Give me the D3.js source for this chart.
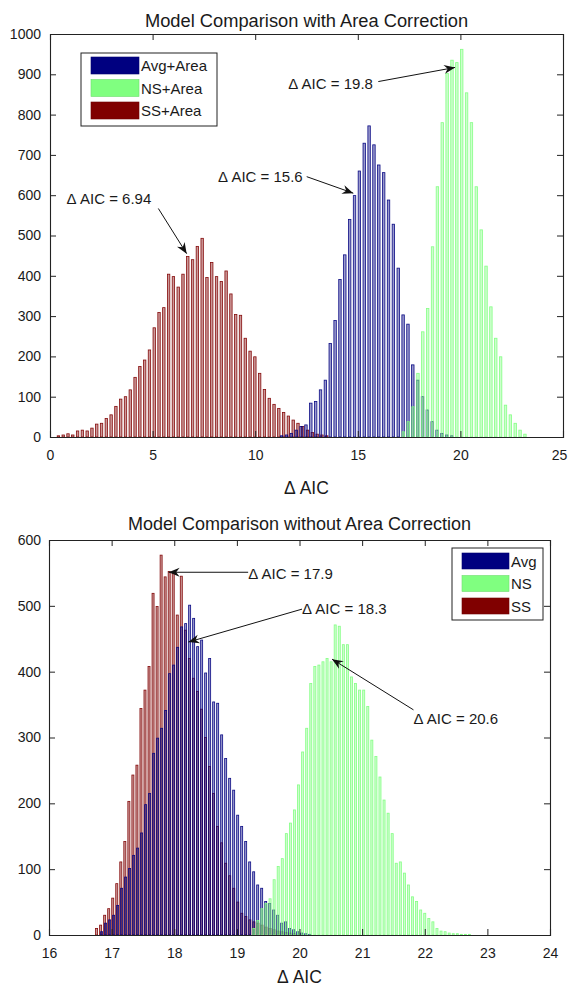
<!DOCTYPE html>
<html><head><meta charset="utf-8">
<script src="https://cdn.jsdelivr.net/npm/d3@7"></script>
<style>
html,body{margin:0;padding:0;background:#fff;}
svg text{font-family:"Liberation Sans",Arial,Helvetica,sans-serif;fill:#1a1a1a;}
</style></head>
<body>
<svg id="chart" width="569" height="988"></svg>
<script>
// ---------- DATA ----------
// Top panel: Model Comparison with Area Correction
const topTitle = "Model Comparison with Area Correction";
const topSeriesNames = ["Avg+Area", "NS+Area", "SS+Area"];
const topXTicks = [0, 5, 10, 15, 20, 25];
const topYTicks = [0, 100, 200, 300, 400, 500, 600, 700, 800, 900, 1000];
const topSSStart = 0.41, topSSBin = 0.2335;
const topSSCounts = [3,5,8,5,15,17,15,22,32,34,46,55,76,94,100,117,148,175,191,216,271,309,321,404,398,372,404,448,440,473,493,396,433,398,386,412,355,304,302,245,213,199,158,118,96,81,71,61,52,42,34,26,17,11,7,5,3];
const topAvgStart = 11.29, topAvgBin = 0.2367;
const topAvgCounts = [3,5,9,17,26,30,84,88,117,141,232,289,391,452,540,599,660,729,772,725,675,656,588,528,419,303,280,179,141,100,67,38,17,9,5,3];
const topNSStart = 17.22, topNSBin = 0.237;
const topNSCounts = [13,38,75,158,261,319,472,621,780,902,935,929,962,854,780,621,514,424,323,245,199,79,55,34,17,7];
// annotations: label, text anchor (x,y data), arrow tail (x,y), arrow tip (x,y)
const topNotes = [
  {label:"\u0394 AIC = 6.94", tx:0.81, ty:577, ax:5.28, ay:567, bx:6.66, by:455},
  {label:"\u0394 AIC = 15.6", tx:8.19, ty:633, ax:12.51, ay:646, bx:14.78, by:605},
  {label:"\u0394 AIC = 19.8", tx:11.61, ty:864, ax:16.0, ay:882, bx:19.74, by:917}
];

// Bottom panel: Model Comparison without Area Correction
const botTitle = "Model Comparison without Area Correction";
const botSeriesNames = ["Avg", "NS", "SS"];
const botXTicks = [16, 17, 18, 19, 20, 21, 22, 23, 24];
const botYTicks = [0, 100, 200, 300, 400, 500, 600];
const botSSStart = 16.76, botSSBin = 0.0644;
const botSSCounts = [10,15,30,40,56,78,111,142,203,243,258,344,372,408,519,499,577,544,552,549,486,545,463,420,390,370,343,300,256,215,165,140,109,90,71,50,33,28,23,20,18,15,12,10,8,6,5,4,3,2];
const botAvgStart = 16.84, botAvgBin = 0.0639;
const botAvgCounts = [5,18,23,30,45,71,88,101,121,132,155,198,215,276,299,314,341,397,410,437,468,473,501,481,438,448,398,420,354,352,304,268,238,220,182,165,142,111,96,76,71,51,48,38,30,18,20,10,8,5,3,2,1];
const botNSStart = 19.27, botNSBin = 0.065;
const botNSCounts = [10,22,40,48,55,84,104,116,154,170,190,228,278,314,382,408,410,415,420,415,471,469,441,441,392,382,372,372,347,296,271,240,205,185,154,109,111,94,76,58,51,38,33,25,20,10,6,5,3,2,2,1,1,1];
const botNotes = [
  {label:"\u0394 AIC = 17.9", tx:19.18, ty:541, ax:19.18, ay:551, bx:17.91, by:551},
  {label:"\u0394 AIC = 18.3", tx:20.04, ty:487, ax:20.04, ay:495, bx:18.225, by:445},
  {label:"\u0394 AIC = 20.6", tx:21.82, ty:321, ax:21.82, ay:342, bx:20.52, by:419}
];

const colAvg = "#000080", colNS = "#80ff80", colSS = "#800000";

// ---------- DRAW ----------
const svg = d3.select("#chart");

function drawPanel(cfg){
  const g = svg.append("g");
  const x = d3.scaleLinear().domain(cfg.xDomain).range([cfg.left, cfg.right]);
  const y = d3.scaleLinear().domain(cfg.yDomain).range([cfg.bottom, cfg.top]);

  // bars
  cfg.series.forEach(s => {
    const stepPx = x(s.start + s.bin) - x(s.start);
    const w = stepPx * cfg.barFrac;
    g.append("g").selectAll("rect").data(s.counts).join("rect")
      .attr("x", (d,i) => x(s.start + i*s.bin) - w/2)
      .attr("width", w)
      .attr("y", d => y(d))
      .attr("height", d => y(0) - y(d))
      .attr("fill", s.color)
      .attr("fill-opacity", 0.4)
      .attr("stroke", s.color)
      .attr("stroke-width", 0.8)
      .attr("stroke-opacity", 0.95);
  });

  // axes
  const fmt = d3.format("d");
  const ax = g.append("g").attr("transform", `translate(0,${cfg.bottom})`)
    .call(d3.axisBottom(x).tickValues(cfg.xTicks).tickFormat(fmt).tickSize(-6).tickPadding(13));
  const axT = g.append("g").attr("transform", `translate(0,${cfg.top})`)
    .call(d3.axisTop(x).tickValues(cfg.xTicks).tickFormat("").tickSize(-6));
  const ay = g.append("g").attr("transform", `translate(${cfg.left},0)`)
    .call(d3.axisLeft(y).tickValues(cfg.yTicks).tickFormat(fmt).tickSize(-6).tickPadding(cfg.yPad));
  const ayR = g.append("g").attr("transform", `translate(${cfg.right},0)`)
    .call(d3.axisRight(y).tickValues(cfg.yTicks).tickFormat("").tickSize(-6));
  [ax, axT, ay, ayR].forEach(a => {
    a.selectAll("path.domain").attr("stroke", "#222").attr("stroke-width", 1.1);
    a.selectAll(".tick line").attr("stroke", "#222");
    a.selectAll("text").style("font-size", "14px").attr("fill", "#1a1a1a")
      .style("font-family", '"Liberation Sans",Arial,sans-serif');
  });
  // keep the right-most x label inside the page
  ax.selectAll(".tick text").filter(d => x(d) > 556).attr("dx", -4);

  // title and x-label
  g.append("text").attr("x", (cfg.left+cfg.right)/2).attr("y", cfg.titleY)
    .attr("text-anchor","middle").style("font-size", cfg.titleSize).text(cfg.title);
  g.append("text").attr("x", (cfg.left+cfg.right)/2).attr("y", cfg.xLabelY)
    .attr("text-anchor","middle").style("font-size","17.5px").text("\u0394 AIC");

  // annotations
  cfg.notes.forEach(n => {
    const x1 = x(n.ax), y1 = y(n.ay), x2 = x(n.bx), y2 = y(n.by);
    g.append("line").attr("x1", x1).attr("y1", y1).attr("x2", x2).attr("y2", y2)
      .attr("stroke", "#111").attr("stroke-width", 1);
    const a = Math.atan2(y2-y1, x2-x1), c = Math.cos(a), s = Math.sin(a);
    const L = 11, W = 4.5, N = 7.5;
    const pts = [[x2,y2],[x2-L*c+W*s, y2-L*s-W*c],[x2-N*c, y2-N*s],[x2-L*c-W*s, y2-L*s+W*c]];
    g.append("path").attr("d", "M" + pts.map(p => p.join(",")).join("L") + "Z").attr("fill", "#111");
    g.append("text").attr("x", x(n.tx)).attr("y", y(n.ty)).style("font-size","15px").text(n.label);
  });

  // legend
  const L = cfg.legend;
  const lg = g.append("g");
  lg.append("rect").attr("x", L.x).attr("y", L.y).attr("width", L.w).attr("height", L.h)
    .attr("fill", "#fff").attr("stroke", "#222").attr("stroke-width", 1);
  cfg.legendItems.forEach((it, i) => {
    const yy = L.y + L.pad + i*L.step;
    lg.append("rect").attr("x", L.x + 10).attr("y", yy).attr("width", L.sw).attr("height", L.sh)
      .attr("fill", it.color).attr("stroke", d3.color(it.color).darker(0.4)).attr("stroke-width", 0.6);
    lg.append("text").attr("x", L.x + 12 + L.sw).attr("y", yy + L.sh/2 + 5.5)
      .style("font-size","15px").text(it.name);
  });
}

drawPanel({
  xDomain:[0,25], yDomain:[0,1000], left:50, right:563, top:34, bottom:437,
  xTicks: topXTicks, yTicks: topYTicks, yPad: 9, barFrac: 0.5,
  title: topTitle, titleY: 27, titleSize: "18.3px", xLabelY: 494,
  series:[
    {start: topSSStart, bin: topSSBin, counts: topSSCounts, color: colSS},
    {start: topAvgStart, bin: topAvgBin, counts: topAvgCounts, color: colAvg},
    {start: topNSStart, bin: topNSBin, counts: topNSCounts, color: colNS}
  ],
  notes: topNotes,
  legend:{x:81, y:53, w:136, h:73, pad:4, step:22.5, sw:48, sh:17},
  legendItems:[
    {name: topSeriesNames[0], color: colAvg},
    {name: topSeriesNames[1], color: colNS},
    {name: topSeriesNames[2], color: colSS}
  ]
});

drawPanel({
  xDomain:[16,24], yDomain:[0,600], left:49, right:550, top:540, bottom:935,
  xTicks: botXTicks, yTicks: botYTicks, yPad: 8, barFrac: 0.5,
  title: botTitle, titleY: 530, titleSize: "18px", xLabelY: 983,
  series:[
    {start: botSSStart, bin: botSSBin, counts: botSSCounts, color: colSS},
    {start: botAvgStart, bin: botAvgBin, counts: botAvgCounts, color: colAvg},
    {start: botNSStart, bin: botNSBin, counts: botNSCounts, color: colNS}
  ],
  notes: botNotes,
  legend:{x:452, y:548, w:91, h:72, pad:5, step:22.5, sw:47, sh:16},
  legendItems:[
    {name: botSeriesNames[0], color: colAvg},
    {name: botSeriesNames[1], color: colNS},
    {name: botSeriesNames[2], color: colSS}
  ]
});
</script>
</body></html>
